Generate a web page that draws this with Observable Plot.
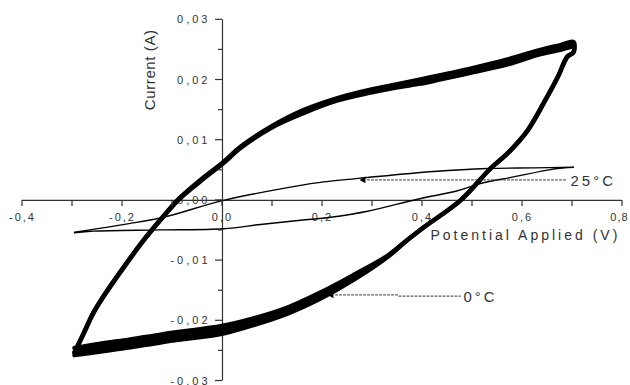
<!DOCTYPE html>
<html><head><meta charset="utf-8">
<script src="https://cdn.jsdelivr.net/npm/d3@7"></script>
<script src="https://cdn.jsdelivr.net/npm/@observablehq/plot@0.6"></script>
<style>
html,body{margin:0;padding:0;background:#fff;}
#chart svg{display:block;}
</style></head><body><div id="chart"></div>
<script>
// ---- axis ticks & labels ----
const xTicks = [-0.4,-0.3,-0.2,-0.1,0,0.1,0.2,0.3,0.4,0.5,0.6,0.7,0.8];
const xLabelVals = [-0.4,-0.2,0,0.2,0.4,0.6,0.8];
const xLabels = ["-0,4","-0,2","0,0","0,2","0,4","0,6","0,8"];
const yMajor = [-0.03,-0.02,-0.01,0,0.01,0.02,0.03];
const yLabels = ["-0,03","-0,02","-0,01","0,00","0,01","0,02","0,03"];
const yMinor = [-0.025,-0.015,-0.005,0.005,0.015,0.025];
const xTitle = "Potential Applied (V)";
const yTitle = "Current (A)";
const tempLabels = ["25°C","0°C"];

// ---- 0 °C loop (thick band: two traced edges) ----
const v0Up  = [-0.296,-0.278,-0.258,-0.230,-0.198,-0.158,-0.118,-0.088,-0.044,0.002,0.036,0.096,0.162,0.230,0.296,0.350,0.396,0.436,0.502,0.570,0.636,0.676,0.702];
const i0UpA = [-0.0252,-0.0221,-0.0186,-0.0149,-0.0111,-0.0066,-0.0026,0.0002,0.0034,0.0064,0.0089,0.0122,0.0150,0.0170,0.0184,0.0193,0.0201,0.0208,0.0220,0.0234,0.0250,0.0258,0.0263];
const i0UpB = [-0.0253,-0.0222,-0.0187,-0.0150,-0.0112,-0.0067,-0.0027,0.0001,0.0032,0.0062,0.0087,0.0120,0.0145,0.0166,0.0179,0.0188,0.0194,0.0201,0.0213,0.0226,0.0243,0.0250,0.0255];
const v0Turn = [0.702,0.690,0.670,0.642,0.610,0.570,0.536,0.476,0.402];
const i0Turn = [0.0246,0.0239,0.0204,0.0161,0.0116,0.0078,0.0053,0.0000,-0.0045];
const v0Back  = [0.368,0.330,0.262,0.196,0.130,0.062,-0.004,-0.064,-0.124,-0.184,-0.244,-0.296];
const i0BackA = [-0.0067,-0.0092,-0.0124,-0.0153,-0.0178,-0.0196,-0.0209,-0.0216,-0.0223,-0.0231,-0.0238,-0.0245];
const i0BackB = [-0.0067,-0.0094,-0.0132,-0.0163,-0.0188,-0.0207,-0.0222,-0.0229,-0.0236,-0.0244,-0.0251,-0.0257];

// ---- 25 °C loop (thin) ----
const v25Fwd = [-0.296,-0.258,-0.124,0.002,0.076,0.156,0.216,0.290,0.390,0.470,0.516,0.582,0.662,0.702];
const i25Fwd = [-0.0054,-0.0051,-0.0049,-0.0047,-0.0040,-0.0033,-0.0028,-0.0018,0.0002,0.0016,0.0028,0.0039,0.0052,0.0055];
const v25Rev = [0.702,0.622,0.530,0.422,0.290,0.196,0.156,0.002,-0.118,-0.190,-0.296];
const i25Rev = [0.0055,0.0054,0.0053,0.0048,0.0038,0.0030,0.0025,0.0000,-0.0028,-0.0039,-0.0053];

// ---- annotation leaders ----
const lead25V = [0.290,0.690];
const lead25I = [0.0034,0.0034];
const lead0V = [0.226,0.350,0.352,0.476];
const lead0I = [-0.0157,-0.0157,-0.0159,-0.0159];
const headV = [0.282,0.218];
const headI = [0.0034,-0.0157];
const labV = [0.696,0.482];
const labI = [0.0032,-0.0160];

const pts = (vs, is) => vs.map((v,k) => ({v, i: is[k]}));
const band = (vs, a, b) => vs.map((v,k) => ({v, a: a[k], b: b[k]}));
const cycleA = [...pts(v0Up,i0UpA), ...pts(v0Turn,i0Turn), ...pts(v0Back,i0BackA)];
const cycleB = [...pts(v0Up,i0UpB), ...pts(v0Turn,i0Turn), ...pts(v0Back,i0BackB)];
const loop25 = [...pts(v25Fwd,i25Fwd), ...pts(v25Rev,i25Rev)];

const ink = "#333";
const font = "'Liberation Sans', Arial, sans-serif";
const curve = "catmull-rom";

const fig = Plot.plot({
  width: 630, height: 385,
  marginLeft: 22, marginRight: 8, marginTop: 19.3, marginBottom: 4.5,
  x: {domain: [-0.4, 0.8], axis: null},
  y: {domain: [-0.03, 0.03], axis: null},
  style: {fontFamily: font, background: "#fff", overflow: "visible"},
  marks: [
    Plot.text(yLabels, {x: () => 0, y: (d,k) => yMajor[k], text: d => d, textAnchor: "end", dx: -12, fontSize: 11, fill: ink}),
    Plot.text(xLabels, {x: (d,k) => xLabelVals[k], y: () => 0, text: d => d, dy: 17.5, fontSize: 11, fill: ink}),
    Plot.text([xTitle], {x: () => 0.416, y: () => 0, text: d => d, textAnchor: "start", lineAnchor: "bottom", dy: 40, fontSize: 14, fill: ink}),
    Plot.text([yTitle], {x: () => -0.144, y: () => 0.0217, text: d => d, rotate: -90, fontSize: 15, fill: ink}),
    Plot.ruleY([0], {x1: -0.4, x2: 0.8, stroke: ink, strokeWidth: 1.2}),
    Plot.ruleX([0], {y1: -0.03, y2: 0.03, stroke: ink, strokeWidth: 1.2}),
    Plot.line(loop25, {x: "v", y: "i", stroke: "#000", strokeWidth: 1.4, curve, strokeLinejoin: "round"}),
    Plot.areaY(band(v0Up, i0UpA, i0UpB), {x: "v", y1: "a", y2: "b", fill: "#000", curve}),
    Plot.areaY(band(v0Back, i0BackA, i0BackB), {x: "v", y1: "a", y2: "b", fill: "#000", curve}),
    Plot.line(cycleA, {x: "v", y: "i", stroke: "#000", strokeWidth: 4.5, curve, strokeLinejoin: "round"}),
    Plot.line(cycleB, {x: "v", y: "i", stroke: "#000", strokeWidth: 4.5, curve, strokeLinejoin: "round"}),
    Plot.line(pts(lead25V, lead25I), {x: "v", y: "i", stroke: ink, strokeWidth: 1, strokeDasharray: "2,2"}),
    Plot.line(pts(lead0V, lead0I), {x: "v", y: "i", stroke: ink, strokeWidth: 1, strokeDasharray: "2,2"}),
    Plot.dot(pts(headV, headI), {x: "v", y: "i", symbol: "triangle", r: 2.5, rotate: -90, fill: "#000", stroke: "none"}),
    Plot.text(tempLabels, {x: (d,k) => labV[k], y: (d,k) => labI[k], text: d => d, textAnchor: "start", fontSize: 15, fill: ink})
  ]
});

// letter spacing as in the original
d3.select(fig).selectAll("text").each(function() {
  const t = this.textContent;
  let s = null;
  if (yLabels.includes(t)) s = 3;
  else if (xLabels.includes(t)) s = 2;
  else if (t === xTitle) s = 3;
  else if (t === yTitle) s = 0.6;
  else if (tempLabels.includes(t)) s = 3;
  if (s !== null) this.style.letterSpacing = s + "px";
  if (t === xLabels[xLabels.length - 1]) { this.style.letterSpacing = "1px"; this.setAttribute("dx", "-3"); }
});

// axis ticks via the plot's own scales
const sx = fig.scale("x"), sy = fig.scale("y");
const x0 = sx.apply(0), y0 = sy.apply(0);
const tg = d3.select(fig).append("g").attr("stroke", ink).attr("stroke-width", 1.2);
tg.selectAll("line.xt").data(xTicks).join("line").attr("class","xt")
  .attr("x1", d => sx.apply(d)).attr("x2", d => sx.apply(d)).attr("y1", y0).attr("y2", y0 + 6);
tg.selectAll("line.ymaj").data(yMajor).join("line").attr("class","ymaj")
  .attr("x1", x0 - 7).attr("x2", x0).attr("y1", d => sy.apply(d)).attr("y2", d => sy.apply(d));
tg.selectAll("line.ymin").data(yMinor).join("line").attr("class","ymin")
  .attr("x1", x0 - 4).attr("x2", x0).attr("y1", d => sy.apply(d)).attr("y2", d => sy.apply(d));

document.getElementById("chart").appendChild(fig);
</script></body></html>
